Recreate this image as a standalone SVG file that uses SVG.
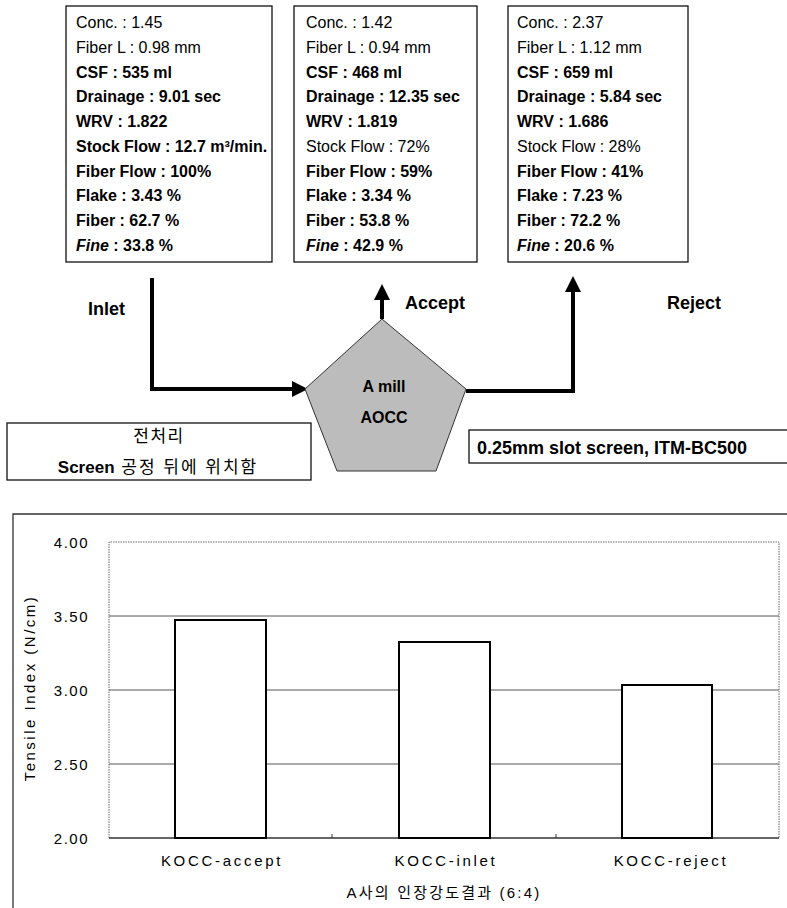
<svg xmlns="http://www.w3.org/2000/svg" width="787" height="908" viewBox="0 0 787 908">
<defs>
<style>
text{font-family:"Liberation Sans",Arial,"Noto Sans CJK KR",sans-serif;fill:#000}
.bx{fill:#fff;stroke:#111;stroke-width:1.3}
.t{font-size:16px;font-weight:bold}
.n{font-weight:normal}
.i{font-style:italic}
.lbl{font-size:18px;font-weight:bold}
.flow{fill:none;stroke:#000;stroke-width:4;stroke-linejoin:miter}
.ax{font-size:15px;letter-spacing:1.5px}
.xl{font-size:15px;letter-spacing:2.7px}
.grid{stroke:#555;stroke-width:1}
.dot{fill:none;stroke:#666;stroke-width:1;stroke-dasharray:1.5 1}
.bar{fill:#fff;stroke:#000;stroke-width:2}
</style>
<marker id="ah" markerWidth="4" markerHeight="4" refX="0" refY="2" orient="auto" markerUnits="strokeWidth">
<path d="M0,0 L4,2 L0,4 Z" fill="#000"/>
</marker>
</defs>
<rect width="787" height="908" fill="#fff"/>

<g id="box-inlet">
<rect class="bx" x="66" y="6" width="206" height="256"/>
<text class="t" x="76" y="28"><tspan class="n">Conc. : 1.45</tspan></text>
<text class="t" x="76" y="52.5"><tspan class="n">Fiber L : 0.98 mm</tspan></text>
<text class="t" x="76" y="77.5">CSF : 535 ml</text>
<text class="t" x="76" y="102">Drainage : 9.01 sec</text>
<text class="t" x="76" y="127">WRV : 1.822</text>
<text class="t" x="76" y="151.5">Stock Flow : 12.7 m³/min.</text>
<text class="t" x="76" y="176.5">Fiber Flow : 100%</text>
<text class="t" x="76" y="201">Flake : 3.43 %</text>
<text class="t" x="76" y="226">Fiber : 62.7 %</text>
<text class="t" x="76" y="250.5"><tspan class="i">Fine</tspan> : 33.8 %</text>
</g>

<g id="box-accept">
<rect class="bx" x="294" y="6" width="183" height="256"/>
<text class="t" x="306" y="28"><tspan class="n">Conc. : 1.42</tspan></text>
<text class="t" x="306" y="52.5"><tspan class="n">Fiber L : 0.94 mm</tspan></text>
<text class="t" x="306" y="77.5">CSF : 468 ml</text>
<text class="t" x="306" y="102">Drainage : 12.35 sec</text>
<text class="t" x="306" y="127">WRV : 1.819</text>
<text class="t" x="306" y="151.5"><tspan class="n">Stock Flow : 72%</tspan></text>
<text class="t" x="306" y="176.5">Fiber Flow : 59%</text>
<text class="t" x="306" y="201">Flake : 3.34 %</text>
<text class="t" x="306" y="226">Fiber : 53.8 %</text>
<text class="t" x="306" y="250.5"><tspan class="i">Fine</tspan> : 42.9 %</text>
</g>

<g id="box-reject">
<rect class="bx" x="508" y="6" width="180" height="256"/>
<text class="t" x="517" y="28"><tspan class="n">Conc. : 2.37</tspan></text>
<text class="t" x="517" y="52.5"><tspan class="n">Fiber L : 1.12 mm</tspan></text>
<text class="t" x="517" y="77.5">CSF : 659 ml</text>
<text class="t" x="517" y="102">Drainage : 5.84 sec</text>
<text class="t" x="517" y="127">WRV : 1.686</text>
<text class="t" x="517" y="151.5"><tspan class="n">Stock Flow : 28%</tspan></text>
<text class="t" x="517" y="176.5">Fiber Flow : 41%</text>
<text class="t" x="517" y="201">Flake : 7.23 %</text>
<text class="t" x="517" y="226">Fiber : 72.2 %</text>
<text class="t" x="517" y="250.5"><tspan class="i">Fine</tspan> : 20.6 %</text>
</g>

<g id="connectors">
<path class="flow" d="M152,278 V389 H292" marker-end="url(#ah)"/>
<path class="flow" d="M382,319 V300" marker-end="url(#ah)"/>
<path class="flow" d="M466,391 H573 V292" marker-end="url(#ah)"/>
</g>

<g id="label-inlet"><text class="lbl" x="88" y="315">Inlet</text></g>
<g id="label-accept"><text class="lbl" x="405" y="309">Accept</text></g>
<g id="label-reject"><text class="lbl" x="667" y="309">Reject</text></g>

<g id="screen">
<polygon points="382,319 466,389 436,471 337,471 305,389" fill="#bcbcbc" stroke="#333" stroke-width="1"/>
<text class="t" x="384" y="392" text-anchor="middle">A mill</text>
<text class="t" x="384" y="423" text-anchor="middle">AOCC</text>
</g>

<g id="note-pretreat">
<rect class="bx" x="7" y="423" width="304" height="57"/>
<text x="159" y="442" font-size="17" letter-spacing="1.5" text-anchor="middle">전처리</text>
<text x="158" y="473" font-size="17" text-anchor="middle"><tspan font-weight="bold">Screen</tspan><tspan letter-spacing="2"> 공정 뒤에 위치함</tspan></text>
</g>

<g id="note-screen">
<rect class="bx" x="469" y="430" width="330" height="33"/>
<text x="477" y="454" font-size="18" font-weight="bold">0.25mm slot screen, ITM-BC500</text>
</g>

<g id="chart">
<path d="M13,908 V514 H787" fill="none" stroke="#333" stroke-width="1.3"/>
<line class="grid" x1="109" y1="616" x2="779" y2="616"/>
<line class="grid" x1="109" y1="690" x2="779" y2="690"/>
<line class="grid" x1="109" y1="764" x2="779" y2="764"/>
<path class="dot" d="M109,838 V542 H779 V838"/>
<line x1="109" y1="838" x2="779" y2="838" stroke="#333" stroke-width="1.3"/>
<line x1="332" y1="838" x2="332" y2="834" stroke="#333" stroke-width="1"/>
<line x1="556" y1="838" x2="556" y2="834" stroke="#333" stroke-width="1"/>
<rect class="bar" x="175" y="620" width="91" height="218"/>
<rect class="bar" x="399" y="642" width="91" height="196"/>
<rect class="bar" x="622" y="685" width="90" height="153"/>
<text class="ax" x="89" y="548" text-anchor="end">4.00</text>
<text class="ax" x="89" y="622" text-anchor="end">3.50</text>
<text class="ax" x="89" y="696" text-anchor="end">3.00</text>
<text class="ax" x="89" y="770" text-anchor="end">2.50</text>
<text class="ax" x="89" y="844" text-anchor="end">2.00</text>
<text class="xl" x="222" y="866" text-anchor="middle">KOCC-accept</text>
<text class="xl" x="446" y="866" text-anchor="middle">KOCC-inlet</text>
<text class="xl" x="671" y="866" text-anchor="middle">KOCC-reject</text>
<text class="ax" x="444" y="898" text-anchor="middle" style="letter-spacing:2.2px">A사의 인장강도결과 (6:4)</text>
<text class="ax" transform="translate(35,688) rotate(-90)" text-anchor="middle" style="letter-spacing:2.5px">Tensile Index (N/cm)</text>
</g>
</svg>
